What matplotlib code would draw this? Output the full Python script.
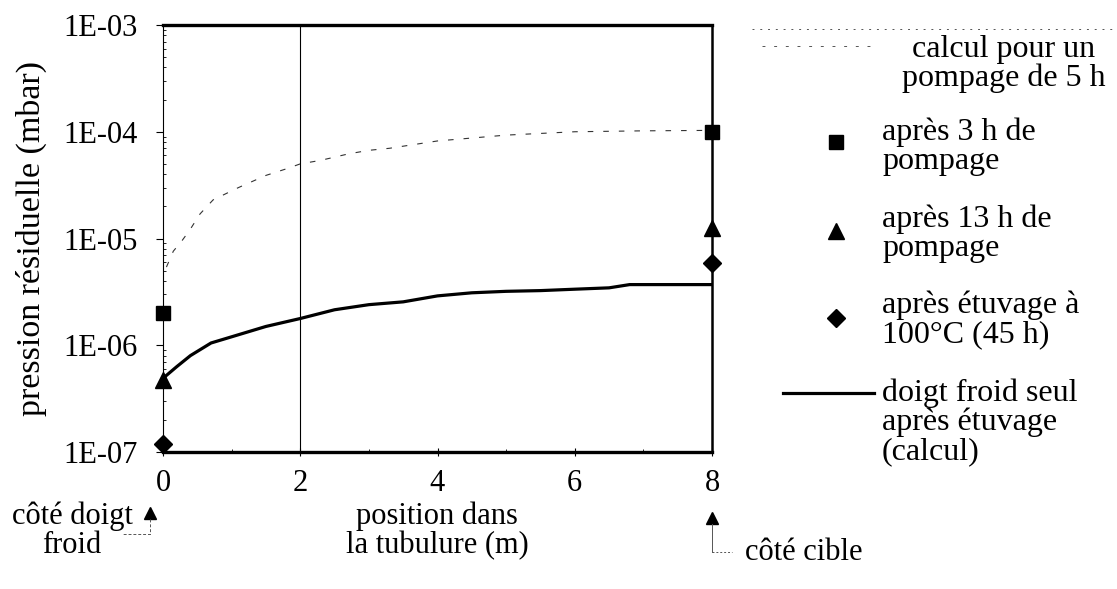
import matplotlib
matplotlib.use("Agg")
import matplotlib.pyplot as plt
from matplotlib.ticker import LogLocator, NullFormatter, FixedLocator

plt.rcParams['font.family'] = ['Liberation Serif', 'DejaVu Serif']

# --- data -------------------------------------------------------------
# calculated profile after 5 h of pumping
calc5h_x = [0.05, 0.15, 0.28, 0.39, 0.54, 0.73, 1.1, 1.5, 1.8, 2.0, 2.3,
            2.7, 3.0, 3.3, 4.0, 5.0, 6.0, 7.0, 8.0]
calc5h_y = [5.4e-6, 7.6e-6, 9.6e-6, 1.2e-5, 1.7e-5, 2.3e-5, 3.0e-5, 3.9e-5,
            4.5e-5, 5.0e-5, 5.4e-5, 6.2e-5, 6.7e-5, 7.0e-5, 8.2e-5, 9.3e-5,
            1.0e-4, 1.02e-4, 1.03e-4]

# measurements at both ends of the tube
pos_ends = [0, 8]
after_3h = [2.0e-6, 1.0e-4]
after_13h = [4.7e-7, 1.26e-5]
after_bake = [1.2e-7, 5.9e-6]

# cold finger alone, after bake-out (calculation)
cold_x = [0, 0.2, 0.4, 0.7, 1.0, 1.5, 2.0, 2.5, 3.0, 3.5, 4.0, 4.5, 5.0,
          5.5, 6.0, 6.5, 6.8, 7.5, 8.0]
cold_y = [4.9e-7, 6.3e-7, 8.0e-7, 1.05e-6, 1.2e-6, 1.5e-6, 1.78e-6,
          2.15e-6, 2.4e-6, 2.55e-6, 2.9e-6, 3.1e-6, 3.2e-6, 3.25e-6,
          3.35e-6, 3.45e-6, 3.7e-6, 3.7e-6, 3.7e-6]

x_ticks = [0, 2, 4, 6, 8]
y_ticks = [1e-7, 1e-6, 1e-5, 1e-4, 1e-3]
y_ticklabels = ['1E-07', '1E-06', '1E-05', '1E-04', '1E-03']

legend_labels = ['calcul pour un\npompage de 5 h',
                 'après 3 h de\npompage',
                 'après 13 h de\npompage',
                 'après étuvage à\n100°C (45 h)',
                 'doigt froid seul\naprès étuvage\n(calcul)']

W, H = 1117, 589
fig = plt.figure(figsize=(W / 100, H / 100), dpi=100)
ax = fig.add_axes([163 / W, 1 - 452 / H, (712 - 163) / W, (452 - 25) / H])

ax.set_yscale('log')
ax.set_xlim(0, 8)
ax.set_ylim(1e-7, 1e-3)

ax.axvline(2, color='black', lw=0.8, zorder=1)

ax.plot(calc5h_x, calc5h_y, color='#333333', lw=0.8,
        linestyle=(0, (5, 9)), zorder=2)
ax.plot(cold_x, cold_y, color='black', lw=2.3, solid_capstyle='butt', zorder=3)

mk = dict(color='black', linestyle='none', zorder=5, clip_on=False)
ax.plot(pos_ends, after_3h, marker='s', markersize=10, **mk)
ax.plot(pos_ends, after_13h, marker='^', markersize=12, **mk)
ax.plot(pos_ends, after_bake, marker='D', markersize=9, **mk)

# frame
ax.spines['top'].set_linewidth(2.4)
ax.spines['bottom'].set_linewidth(2.4)
ax.spines['right'].set_linewidth(1.8)
ax.spines['left'].set_linewidth(0.8)

ax.set_xticks(x_ticks)
ax.set_xticklabels([str(v) for v in x_ticks])
ax.xaxis.set_minor_locator(FixedLocator([1, 3, 5, 7]))
ax.set_yticks(y_ticks)
ax.set_yticklabels(y_ticklabels)
ax.yaxis.set_minor_locator(LogLocator(base=10, subs=range(2, 10)))
ax.yaxis.set_minor_formatter(NullFormatter())
ax.tick_params(axis='both', which='major', labelsize=22, width=0.8)
ax.tick_params(axis='x', which='major', direction='inout', length=6, pad=9)
ax.tick_params(axis='y', which='major', direction='out', length=5, pad=13)
ax.tick_params(axis='both', which='minor', direction='in', length=2, width=0.6)

ax.set_ylabel('pression résiduelle (mbar)', fontsize=24.5, labelpad=12)

# overlay in pixel coordinates for the legend and side notes
ov = fig.add_axes([0, 0, 1, 1], facecolor='none')
ov.set_xlim(0, W)
ov.set_ylim(H, 0)
ov.axis('off')

fs = 23
ls = 1.0
# legend: dashed calculation line
ov.plot([752, 1112], [29, 29], color='#555555', lw=0.7, linestyle=(0, (2, 6)))
ov.plot([762, 874], [46, 46], color='#555555', lw=0.7, linestyle=(0, (3, 9)))
ov.text(1004, 64, legend_labels[0], fontsize=fs, ha='center', va='center',
        linespacing=ls)
# legend: markers
ov.plot([836], [142], marker='s', markersize=10, color='black')
ov.text(882, 147, legend_labels[1], fontsize=fs, ha='left', va='center',
        linespacing=ls)
ov.plot([836], [231], marker='^', markersize=12, color='black')
ov.text(882, 234, legend_labels[2], fontsize=fs, ha='left', va='center',
        linespacing=ls)
ov.plot([836], [318], marker='D', markersize=9, color='black')
ov.text(882, 320, legend_labels[3], fontsize=fs, ha='left', va='center',
        linespacing=ls)
# legend: solid line
ov.plot([783, 874], [393, 393], color='black', lw=2.3)
ov.text(882, 422, legend_labels[4], fontsize=fs, ha='left', va='center',
        linespacing=ls)

fs2 = 22
# x axis title
ov.text(437, 531, 'position dans\nla tubulure (m)', fontsize=fs2,
        ha='center', va='center', linespacing=ls)

# cold-finger side
ov.plot([150], [513], marker='^', markersize=9, color='black')
ov.plot([150, 150, 122], [519, 534, 534], color='#555555', lw=0.7,
        linestyle=(0, (3, 2)))
ov.text(72, 531, 'côté doigt\nfroid', fontsize=fs2, ha='center', va='center',
        linespacing=ls)

# target side
ov.plot([712], [518], marker='^', markersize=9, color='black')
ov.plot([712, 712], [524, 552], color='#555555', lw=0.7)
ov.plot([712, 732], [552, 552], color='#555555', lw=0.7, linestyle=(0, (2, 2)))
ov.text(745, 553, 'côté cible', fontsize=fs2, ha='left', va='center')

fig.savefig('out.png', dpi=100)
